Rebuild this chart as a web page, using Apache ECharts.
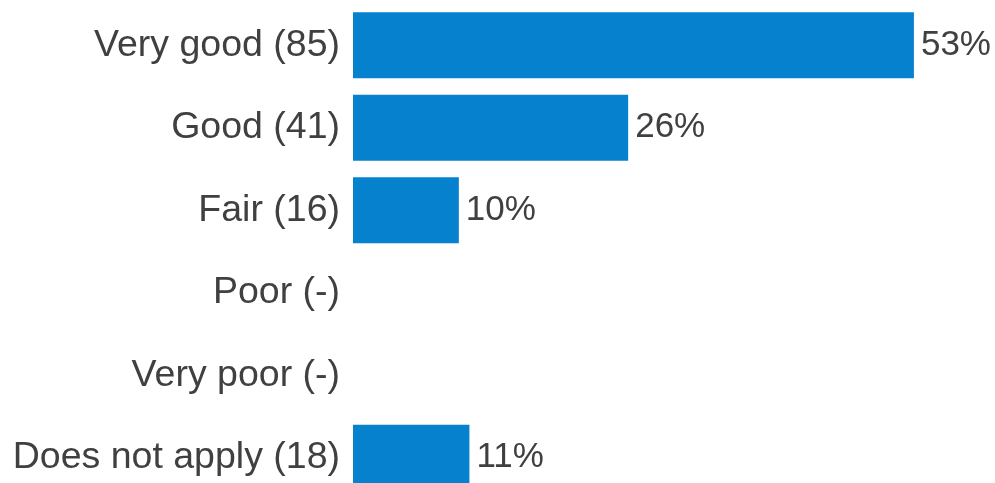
<!DOCTYPE html>
<html>
<head>
<meta charset="utf-8">
<script src="https://cdn.jsdelivr.net/npm/echarts@6/dist/echarts.min.js"></script>
<style>
  html, body { margin: 0; padding: 0; background: #ffffff; }
  #chart { width: 995px; height: 483px; }
</style>
</head>
<body>
<div id="chart"></div>
<script>
// Survey answers, top to bottom
const categories = ['Very good (85)', 'Good (41)', 'Fair (16)', 'Poor (-)', 'Very poor (-)', 'Does not apply (18)'];
// Share of respondents, in percent (null = no responses)
const shares = [53, 26, 10, null, null, 11];

const chart = echarts.init(document.getElementById('chart'), null, { renderer: 'canvas' });

chart.setOption({
  animation: false,
  backgroundColor: '#ffffff',
  grid: {
    left: 353, top: 4, width: 635, height: 495,
    containLabel: false,
    outerBoundsMode: 'none'
  },
  xAxis: {
    type: 'value',
    min: 0,
    max: 60,
    show: false
  },
  yAxis: {
    type: 'category',
    data: categories,
    inverse: true,
    axisLine: { show: false },
    axisTick: { show: false },
    splitLine: { show: false },
    axisLabel: {
      color: '#404040',
      fontFamily: 'Liberation Sans, Arial, sans-serif',
      fontSize: 37.5,
      margin: 13
    }
  },
  series: [{
    type: 'bar',
    data: shares,
    barWidth: '80%',
    itemStyle: { color: '#0681cd' },
    label: {
      show: true,
      position: 'right',
      distance: 7,
      color: '#404040',
      fontFamily: 'Liberation Sans, Arial, sans-serif',
      fontSize: 35,
      formatter: p => p.value == null ? '' : p.value + '%'
    }
  }]
});
</script>
</body>
</html>
